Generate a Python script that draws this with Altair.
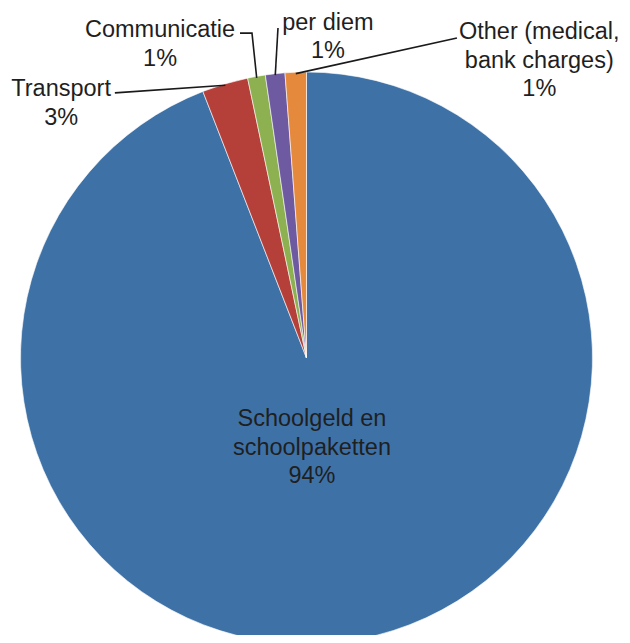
import math
import altair as alt
import pandas as pd

# ---- data ----
categories = ["Schoolgeld en schoolpaketten", "Transport", "Communicatie", "per diem",
              "Other (medical, bank charges)"]
values = [94.1, 2.6, 1.0, 1.1, 1.2]
pct_labels = ["94%", "3%", "1%", "1%", "1%"]
label_lines = ["Schoolgeld en\nschoolpaketten", "Transport", "Communicatie", "per diem",
               "Other (medical,\nbank charges)"]
colors = ["#3E72A7", "#B5403A", "#8DB050", "#6E5AA0", "#E58A3C"]

# ---- layout (in units of pie radius, centre = 0,0); text = first-line baseline ----
label_pos = [(0.019, -0.2378), (-0.858, 0.916), (-0.512, 1.122), (0.075, 1.147), (0.814, 1.115)]
# leader line points from label side (None = no leader line)
leader_pts = [None,
              [(-0.670, 0.927)],
              [(-0.2325, 1.136), (-0.1906, 1.136)],
              [(-0.0997, 1.154)],
              [(0.526, 1.119)]]
anchor_r = 0.995

W, H = 614, 627
R = 286
CX, CY = 298.5, 350
xdom = [-CX / R, (W - CX) / R]
ydom = [-(H - CY) / R, CY / R]

total = sum(values)
pie_df = pd.DataFrame({"cat": categories, "value": values, "idx": list(range(len(values)))})

# text
txt_rows = []
for i, c in enumerate(categories):
    txt_rows.append({"cat": c, "t": label_lines[i] + "\n" + pct_labels[i],
                     "u": label_pos[i][0], "v": label_pos[i][1]})
txt_df = pd.DataFrame(txt_rows)

# leader lines: anchored on slice mid-angle
line_rows = []
cum = 0.0
for i, c in enumerate(categories):
    mid = (cum + values[i] / 2) / total * 2 * math.pi
    cum += values[i]
    pts = leader_pts[i]
    if pts is None:
        continue
    k = 0
    for (u, v) in pts:
        line_rows.append({"cat": c, "k": k, "u": u, "v": v})
        k += 1
    line_rows.append({"cat": c, "k": k, "u": anchor_r * math.sin(mid), "v": anchor_r * math.cos(mid)})
line_df = pd.DataFrame(line_rows)

xs = alt.Scale(domain=xdom, nice=False, zero=False)
ys = alt.Scale(domain=ydom, nice=False, zero=False)

pie = alt.Chart(pie_df).mark_arc(outerRadius=R, stroke="white", strokeWidth=0.6).encode(
    theta=alt.Theta("value:Q", stack=True),
    order=alt.Order("idx:Q"),
    color=alt.Color("cat:N", scale=alt.Scale(domain=categories, range=colors), legend=None),
    x=alt.value(CX),
    y=alt.value(CY),
)

leaders = alt.Chart(line_df).mark_line(color="#1a1a1a", strokeWidth=1.6).encode(
    x=alt.X("u:Q", scale=xs, axis=None),
    y=alt.Y("v:Q", scale=ys, axis=None),
    detail="cat:N",
    order="k:Q",
)

texts = alt.Chart(txt_df).mark_text(
    font="Liberation Sans", fontSize=23.5, lineBreak="\n", lineHeight=28.5,
    align="center", baseline="alphabetic", color="#1f1f1f"
).encode(
    x=alt.X("u:Q", scale=xs, axis=None),
    y=alt.Y("v:Q", scale=ys, axis=None),
    text="t:N",
)

chart = alt.layer(pie, leaders, texts).properties(
    width=W, height=H, padding=0, autosize=alt.AutoSizeParams(type="none"),
    background="white"
).configure_view(stroke=None)

chart.save("out.html", embed_options={"renderer": "svg", "actions": False})
